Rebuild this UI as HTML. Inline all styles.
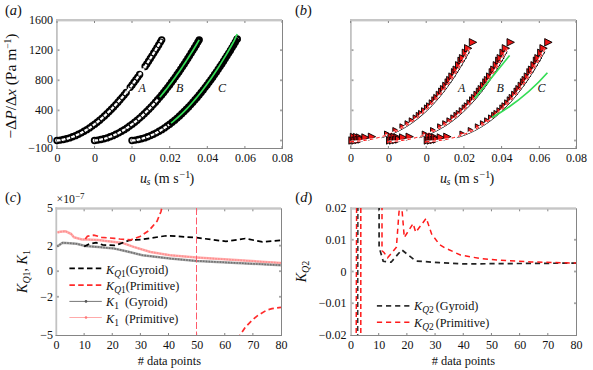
<!DOCTYPE html><html><head><meta charset="utf-8"><style>
html,body{margin:0;padding:0;background:#fff;width:593px;height:370px;overflow:hidden}
svg{display:block}
text{font-family:"Liberation Serif", serif;fill:#111}
.t{font-size:12px}
.it{font-style:italic}
</style></head><body>
<svg width="593" height="370" viewBox="0 0 593 370">
<text x="5" y="15" font-size="14.5" text-anchor="start" class="" >(<tspan class="it">a</tspan>)</text>
<text x="295" y="15" font-size="14.5" text-anchor="start" class="" >(<tspan class="it">b</tspan>)</text>
<text x="5" y="202" font-size="14.5" text-anchor="start" class="" >(<tspan class="it">c</tspan>)</text>
<text x="295.3" y="202" font-size="14.5" text-anchor="start" class="" >(<tspan class="it">d</tspan>)</text>
<rect x="56" y="19" width="226" height="2.4" fill="#c6c6c6"/>
<rect x="56" y="19" width="1.8" height="129" fill="#c2c2c2"/>
<rect x="282" y="20" width="1" height="129" fill="#858585"/>
<rect x="56" y="148" width="227" height="1" fill="#858585"/>
<rect x="56.5" y="146" width="1" height="2" fill="#858585"/>
<rect x="56.5" y="21" width="1" height="2" fill="#858585"/>
<rect x="94.0" y="146" width="1" height="2" fill="#858585"/>
<rect x="94.0" y="21" width="1" height="2" fill="#858585"/>
<rect x="131.5" y="146" width="1" height="2" fill="#858585"/>
<rect x="131.5" y="21" width="1" height="2" fill="#858585"/>
<rect x="169.2" y="146" width="1" height="2" fill="#858585"/>
<rect x="169.2" y="21" width="1" height="2" fill="#858585"/>
<rect x="206.8" y="146" width="1" height="2" fill="#858585"/>
<rect x="206.8" y="21" width="1" height="2" fill="#858585"/>
<rect x="244.4" y="146" width="1" height="2" fill="#858585"/>
<rect x="244.4" y="21" width="1" height="2" fill="#858585"/>
<rect x="281.5" y="146" width="1" height="2" fill="#858585"/>
<rect x="281.5" y="21" width="1" height="2" fill="#858585"/>
<rect x="57.5" y="139.6" width="2" height="1.8" fill="#a5a5a5"/>
<rect x="280" y="139.6" width="2" height="1.8" fill="#a5a5a5"/>
<rect x="57.5" y="109.484" width="2" height="1.8" fill="#a5a5a5"/>
<rect x="280" y="109.484" width="2" height="1.8" fill="#a5a5a5"/>
<rect x="57.5" y="79.368" width="2" height="1.8" fill="#a5a5a5"/>
<rect x="280" y="79.368" width="2" height="1.8" fill="#a5a5a5"/>
<rect x="57.5" y="49.252" width="2" height="1.8" fill="#a5a5a5"/>
<rect x="280" y="49.252" width="2" height="1.8" fill="#a5a5a5"/>
<text x="53" y="24" font-size="12" text-anchor="end" class="" >1600</text>
<text x="53" y="54" font-size="12" text-anchor="end" class="" >1200</text>
<text x="53" y="84" font-size="12" text-anchor="end" class="" >800</text>
<text x="53" y="114" font-size="12" text-anchor="end" class="" >400</text>
<text x="53" y="142.5" font-size="12" text-anchor="end" class="" >0</text>
<text x="53" y="152" font-size="12" text-anchor="end" class="" >−100</text>
<text x="57.5" y="162" font-size="12" text-anchor="middle" class="" >0</text>
<text x="95.0" y="162" font-size="12" text-anchor="middle" class="" >0</text>
<text x="132.5" y="162" font-size="12" text-anchor="middle" class="" >0</text>
<text x="170.2" y="162" font-size="12" text-anchor="middle" class="" >0.02</text>
<text x="207.8" y="162" font-size="12" text-anchor="middle" class="" >0.04</text>
<text x="245.4" y="162" font-size="12" text-anchor="middle" class="" >0.06</text>
<text x="282.5" y="162" font-size="12" text-anchor="middle" class="" >0.08</text>
<text y="182.5" font-size="14"><tspan x="140" class="it">u</tspan><tspan x="146.6" y="184.5" font-size="10" class="it">s</tspan><tspan x="154.2" y="182.5">(m</tspan><tspan x="173.3" y="182.5">s</tspan><tspan x="179.6" y="177.8" font-size="10">−1</tspan><tspan x="189.6" y="182.5">)</tspan></text>
<circle cx="57.00" cy="140.50" r="2.8" fill="none" stroke="#000" stroke-width="1.8"/>
<circle cx="60.21" cy="140.11" r="2.8" fill="none" stroke="#000" stroke-width="1.8"/>
<circle cx="63.36" cy="139.54" r="2.8" fill="none" stroke="#000" stroke-width="1.8"/>
<circle cx="66.50" cy="138.79" r="2.8" fill="none" stroke="#000" stroke-width="1.8"/>
<circle cx="69.57" cy="137.88" r="2.8" fill="none" stroke="#000" stroke-width="1.8"/>
<circle cx="72.58" cy="136.82" r="2.8" fill="none" stroke="#000" stroke-width="1.8"/>
<circle cx="75.51" cy="135.63" r="2.8" fill="none" stroke="#000" stroke-width="1.8"/>
<circle cx="78.44" cy="134.29" r="2.8" fill="none" stroke="#000" stroke-width="1.8"/>
<circle cx="81.31" cy="132.83" r="2.8" fill="none" stroke="#000" stroke-width="1.8"/>
<circle cx="84.10" cy="131.28" r="2.8" fill="none" stroke="#000" stroke-width="1.8"/>
<circle cx="86.82" cy="129.63" r="2.8" fill="none" stroke="#000" stroke-width="1.8"/>
<circle cx="89.48" cy="127.91" r="2.8" fill="none" stroke="#000" stroke-width="1.8"/>
<circle cx="92.13" cy="126.06" r="2.8" fill="none" stroke="#000" stroke-width="1.8"/>
<circle cx="94.72" cy="124.15" r="2.8" fill="none" stroke="#000" stroke-width="1.8"/>
<circle cx="97.23" cy="122.19" r="2.8" fill="none" stroke="#000" stroke-width="1.8"/>
<circle cx="99.68" cy="120.19" r="2.8" fill="none" stroke="#000" stroke-width="1.8"/>
<circle cx="102.12" cy="118.09" r="2.8" fill="none" stroke="#000" stroke-width="1.8"/>
<circle cx="104.50" cy="115.95" r="2.8" fill="none" stroke="#000" stroke-width="1.8"/>
<circle cx="106.87" cy="113.73" r="2.8" fill="none" stroke="#000" stroke-width="1.8"/>
<circle cx="109.18" cy="111.49" r="2.8" fill="none" stroke="#000" stroke-width="1.8"/>
<circle cx="111.41" cy="109.24" r="2.8" fill="none" stroke="#000" stroke-width="1.8"/>
<circle cx="113.65" cy="106.91" r="2.8" fill="none" stroke="#000" stroke-width="1.8"/>
<circle cx="115.81" cy="104.59" r="2.8" fill="none" stroke="#000" stroke-width="1.8"/>
<circle cx="117.98" cy="102.19" r="2.8" fill="none" stroke="#000" stroke-width="1.8"/>
<circle cx="120.07" cy="99.80" r="2.8" fill="none" stroke="#000" stroke-width="1.8"/>
<circle cx="122.17" cy="97.35" r="2.8" fill="none" stroke="#000" stroke-width="1.8"/>
<circle cx="124.19" cy="94.92" r="2.8" fill="none" stroke="#000" stroke-width="1.8"/>
<circle cx="126.22" cy="92.43" r="2.8" fill="none" stroke="#000" stroke-width="1.8"/>
<circle cx="130.20" cy="87.37" r="2.8" fill="none" stroke="#000" stroke-width="1.8"/>
<circle cx="132.09" cy="84.90" r="2.8" fill="none" stroke="#000" stroke-width="1.8"/>
<circle cx="134.04" cy="82.28" r="2.8" fill="none" stroke="#000" stroke-width="1.8"/>
<circle cx="135.93" cy="79.70" r="2.8" fill="none" stroke="#000" stroke-width="1.8"/>
<circle cx="137.81" cy="77.08" r="2.8" fill="none" stroke="#000" stroke-width="1.8"/>
<circle cx="139.63" cy="74.51" r="2.8" fill="none" stroke="#000" stroke-width="1.8"/>
<circle cx="145.08" cy="66.53" r="2.8" fill="none" stroke="#000" stroke-width="1.8"/>
<circle cx="146.82" cy="63.89" r="2.8" fill="none" stroke="#000" stroke-width="1.8"/>
<circle cx="148.57" cy="61.21" r="2.8" fill="none" stroke="#000" stroke-width="1.8"/>
<circle cx="150.32" cy="58.50" r="2.8" fill="none" stroke="#000" stroke-width="1.8"/>
<circle cx="151.99" cy="55.85" r="2.8" fill="none" stroke="#000" stroke-width="1.8"/>
<circle cx="153.74" cy="53.06" r="2.8" fill="none" stroke="#000" stroke-width="1.8"/>
<circle cx="155.41" cy="50.34" r="2.8" fill="none" stroke="#000" stroke-width="1.8"/>
<circle cx="157.02" cy="47.71" r="2.8" fill="none" stroke="#000" stroke-width="1.8"/>
<circle cx="158.70" cy="44.92" r="2.8" fill="none" stroke="#000" stroke-width="1.8"/>
<circle cx="160.37" cy="42.11" r="2.8" fill="none" stroke="#000" stroke-width="1.8"/>
<circle cx="161.70" cy="39.85" r="2.8" fill="none" stroke="#000" stroke-width="1.8"/>
<path d="M57.00,140.50 L58.75,140.31 L60.49,140.07 L62.24,139.76 L63.98,139.40 L65.73,138.99 L67.48,138.52 L69.22,137.99 L70.97,137.40 L72.72,136.77 L74.46,136.07 L76.21,135.32 L77.95,134.52 L79.70,133.67 L81.45,132.76 L83.19,131.80 L84.94,130.78 L86.68,129.72 L88.43,128.60 L90.18,127.43 L91.92,126.21 L93.67,124.94 L95.42,123.62 L97.16,122.25 L98.91,120.83 L100.65,119.36 L102.40,117.84 L104.15,116.27 L105.89,114.66 L107.64,112.99 L109.38,111.28 L111.13,109.52 L112.88,107.72 L114.62,105.87 L116.37,103.97 L118.12,102.03 L119.86,100.04 L121.61,98.01 L123.35,95.94 L125.10,93.81 L126.85,91.65 L128.59,89.44 L130.34,87.19 L132.09,84.90 L133.83,82.56 L135.58,80.18 L137.32,77.76 L139.07,75.30 L140.82,72.80 L142.56,70.26 L144.31,67.68 L146.05,65.06 L147.80,62.40 L149.55,59.70 L151.29,56.96 L153.04,54.18 L154.79,51.36 L156.53,48.51 L158.28,45.62 L160.02,42.70 L161.70,39.85" fill="none" stroke="#fff" stroke-width="2.3" stroke-dasharray="3.6 1.3"/>
<circle cx="94.50" cy="140.50" r="2.8" fill="none" stroke="#000" stroke-width="1.8"/>
<circle cx="97.71" cy="140.11" r="2.8" fill="none" stroke="#000" stroke-width="1.8"/>
<circle cx="100.86" cy="139.54" r="2.8" fill="none" stroke="#000" stroke-width="1.8"/>
<circle cx="104.00" cy="138.79" r="2.8" fill="none" stroke="#000" stroke-width="1.8"/>
<circle cx="107.07" cy="137.88" r="2.8" fill="none" stroke="#000" stroke-width="1.8"/>
<circle cx="110.08" cy="136.82" r="2.8" fill="none" stroke="#000" stroke-width="1.8"/>
<circle cx="113.01" cy="135.63" r="2.8" fill="none" stroke="#000" stroke-width="1.8"/>
<circle cx="115.94" cy="134.29" r="2.8" fill="none" stroke="#000" stroke-width="1.8"/>
<circle cx="118.81" cy="132.83" r="2.8" fill="none" stroke="#000" stroke-width="1.8"/>
<circle cx="121.60" cy="131.28" r="2.8" fill="none" stroke="#000" stroke-width="1.8"/>
<circle cx="124.32" cy="129.63" r="2.8" fill="none" stroke="#000" stroke-width="1.8"/>
<circle cx="126.98" cy="127.91" r="2.8" fill="none" stroke="#000" stroke-width="1.8"/>
<circle cx="129.63" cy="126.06" r="2.8" fill="none" stroke="#000" stroke-width="1.8"/>
<circle cx="132.22" cy="124.15" r="2.8" fill="none" stroke="#000" stroke-width="1.8"/>
<circle cx="134.73" cy="122.19" r="2.8" fill="none" stroke="#000" stroke-width="1.8"/>
<circle cx="137.18" cy="120.19" r="2.8" fill="none" stroke="#000" stroke-width="1.8"/>
<circle cx="139.62" cy="118.09" r="2.8" fill="none" stroke="#000" stroke-width="1.8"/>
<circle cx="142.00" cy="115.95" r="2.8" fill="none" stroke="#000" stroke-width="1.8"/>
<circle cx="144.37" cy="113.73" r="2.8" fill="none" stroke="#000" stroke-width="1.8"/>
<circle cx="146.68" cy="111.49" r="2.8" fill="none" stroke="#000" stroke-width="1.8"/>
<circle cx="148.91" cy="109.24" r="2.8" fill="none" stroke="#000" stroke-width="1.8"/>
<circle cx="151.15" cy="106.91" r="2.8" fill="none" stroke="#000" stroke-width="1.8"/>
<circle cx="153.31" cy="104.59" r="2.8" fill="none" stroke="#000" stroke-width="1.8"/>
<circle cx="155.48" cy="102.19" r="2.8" fill="none" stroke="#000" stroke-width="1.8"/>
<circle cx="157.57" cy="99.80" r="2.8" fill="none" stroke="#000" stroke-width="1.8"/>
<circle cx="159.67" cy="97.35" r="2.8" fill="none" stroke="#000" stroke-width="1.8"/>
<circle cx="161.69" cy="94.92" r="2.8" fill="none" stroke="#000" stroke-width="1.8"/>
<circle cx="163.72" cy="92.43" r="2.8" fill="none" stroke="#000" stroke-width="1.8"/>
<circle cx="165.67" cy="89.98" r="2.8" fill="none" stroke="#000" stroke-width="1.8"/>
<circle cx="167.70" cy="87.37" r="2.8" fill="none" stroke="#000" stroke-width="1.8"/>
<circle cx="169.59" cy="84.90" r="2.8" fill="none" stroke="#000" stroke-width="1.8"/>
<circle cx="171.54" cy="82.28" r="2.8" fill="none" stroke="#000" stroke-width="1.8"/>
<circle cx="173.43" cy="79.70" r="2.8" fill="none" stroke="#000" stroke-width="1.8"/>
<circle cx="175.31" cy="77.08" r="2.8" fill="none" stroke="#000" stroke-width="1.8"/>
<circle cx="177.13" cy="74.51" r="2.8" fill="none" stroke="#000" stroke-width="1.8"/>
<circle cx="178.94" cy="71.89" r="2.8" fill="none" stroke="#000" stroke-width="1.8"/>
<circle cx="180.76" cy="69.23" r="2.8" fill="none" stroke="#000" stroke-width="1.8"/>
<circle cx="182.58" cy="66.53" r="2.8" fill="none" stroke="#000" stroke-width="1.8"/>
<circle cx="184.32" cy="63.89" r="2.8" fill="none" stroke="#000" stroke-width="1.8"/>
<circle cx="186.07" cy="61.21" r="2.8" fill="none" stroke="#000" stroke-width="1.8"/>
<circle cx="187.82" cy="58.50" r="2.8" fill="none" stroke="#000" stroke-width="1.8"/>
<circle cx="189.49" cy="55.85" r="2.8" fill="none" stroke="#000" stroke-width="1.8"/>
<circle cx="191.24" cy="53.06" r="2.8" fill="none" stroke="#000" stroke-width="1.8"/>
<circle cx="192.91" cy="50.34" r="2.8" fill="none" stroke="#000" stroke-width="1.8"/>
<circle cx="194.52" cy="47.71" r="2.8" fill="none" stroke="#000" stroke-width="1.8"/>
<circle cx="196.20" cy="44.92" r="2.8" fill="none" stroke="#000" stroke-width="1.8"/>
<circle cx="197.87" cy="42.11" r="2.8" fill="none" stroke="#000" stroke-width="1.8"/>
<circle cx="199.20" cy="39.85" r="2.8" fill="none" stroke="#000" stroke-width="1.8"/>
<path d="M94.50,140.50 L96.25,140.31 L97.99,140.07 L99.74,139.76 L101.48,139.40 L103.23,138.99 L104.98,138.52 L106.72,137.99 L108.47,137.40 L110.22,136.77 L111.96,136.07 L113.71,135.32 L115.45,134.52 L117.20,133.67 L118.95,132.76 L120.69,131.80 L122.44,130.78 L124.18,129.72 L125.93,128.60 L127.68,127.43 L129.42,126.21 L131.17,124.94 L132.92,123.62 L134.66,122.25 L136.41,120.83 L138.15,119.36 L139.90,117.84 L141.65,116.27 L143.39,114.66 L145.14,112.99 L146.88,111.28 L148.63,109.52 L150.38,107.72 L152.12,105.87 L153.87,103.97 L155.62,102.03 L157.36,100.04 L159.11,98.01" fill="none" stroke="#fff" stroke-width="2.3" stroke-dasharray="3.6 1.3"/>
<circle cx="132.00" cy="140.50" r="2.8" fill="none" stroke="#000" stroke-width="1.8"/>
<circle cx="135.23" cy="140.11" r="2.8" fill="none" stroke="#000" stroke-width="1.8"/>
<circle cx="138.39" cy="139.53" r="2.8" fill="none" stroke="#000" stroke-width="1.8"/>
<circle cx="141.47" cy="138.79" r="2.8" fill="none" stroke="#000" stroke-width="1.8"/>
<circle cx="144.56" cy="137.88" r="2.8" fill="none" stroke="#000" stroke-width="1.8"/>
<circle cx="147.58" cy="136.82" r="2.8" fill="none" stroke="#000" stroke-width="1.8"/>
<circle cx="150.53" cy="135.62" r="2.8" fill="none" stroke="#000" stroke-width="1.8"/>
<circle cx="153.40" cy="134.31" r="2.8" fill="none" stroke="#000" stroke-width="1.8"/>
<circle cx="156.28" cy="132.85" r="2.8" fill="none" stroke="#000" stroke-width="1.8"/>
<circle cx="159.09" cy="131.28" r="2.8" fill="none" stroke="#000" stroke-width="1.8"/>
<circle cx="161.83" cy="129.63" r="2.8" fill="none" stroke="#000" stroke-width="1.8"/>
<circle cx="164.49" cy="127.90" r="2.8" fill="none" stroke="#000" stroke-width="1.8"/>
<circle cx="167.16" cy="126.04" r="2.8" fill="none" stroke="#000" stroke-width="1.8"/>
<circle cx="169.69" cy="124.18" r="2.8" fill="none" stroke="#000" stroke-width="1.8"/>
<circle cx="172.21" cy="122.21" r="2.8" fill="none" stroke="#000" stroke-width="1.8"/>
<circle cx="174.74" cy="120.13" r="2.8" fill="none" stroke="#000" stroke-width="1.8"/>
<circle cx="177.13" cy="118.08" r="2.8" fill="none" stroke="#000" stroke-width="1.8"/>
<circle cx="179.51" cy="115.94" r="2.8" fill="none" stroke="#000" stroke-width="1.8"/>
<circle cx="181.83" cy="113.77" r="2.8" fill="none" stroke="#000" stroke-width="1.8"/>
<circle cx="184.14" cy="111.52" r="2.8" fill="none" stroke="#000" stroke-width="1.8"/>
<circle cx="186.39" cy="109.26" r="2.8" fill="none" stroke="#000" stroke-width="1.8"/>
<circle cx="188.64" cy="106.92" r="2.8" fill="none" stroke="#000" stroke-width="1.8"/>
<circle cx="190.81" cy="104.59" r="2.8" fill="none" stroke="#000" stroke-width="1.8"/>
<circle cx="192.92" cy="102.26" r="2.8" fill="none" stroke="#000" stroke-width="1.8"/>
<circle cx="195.09" cy="99.78" r="2.8" fill="none" stroke="#000" stroke-width="1.8"/>
<circle cx="197.13" cy="97.40" r="2.8" fill="none" stroke="#000" stroke-width="1.8"/>
<circle cx="199.16" cy="94.96" r="2.8" fill="none" stroke="#000" stroke-width="1.8"/>
<circle cx="201.20" cy="92.46" r="2.8" fill="none" stroke="#000" stroke-width="1.8"/>
<circle cx="203.23" cy="89.90" r="2.8" fill="none" stroke="#000" stroke-width="1.8"/>
<circle cx="205.20" cy="87.37" r="2.8" fill="none" stroke="#000" stroke-width="1.8"/>
<circle cx="207.09" cy="84.89" r="2.8" fill="none" stroke="#000" stroke-width="1.8"/>
<circle cx="209.06" cy="82.26" r="2.8" fill="none" stroke="#000" stroke-width="1.8"/>
<circle cx="210.95" cy="79.67" r="2.8" fill="none" stroke="#000" stroke-width="1.8"/>
<circle cx="212.78" cy="77.13" r="2.8" fill="none" stroke="#000" stroke-width="1.8"/>
<circle cx="214.60" cy="74.55" r="2.8" fill="none" stroke="#000" stroke-width="1.8"/>
<circle cx="216.43" cy="71.92" r="2.8" fill="none" stroke="#000" stroke-width="1.8"/>
<circle cx="218.25" cy="69.25" r="2.8" fill="none" stroke="#000" stroke-width="1.8"/>
<circle cx="220.08" cy="66.53" r="2.8" fill="none" stroke="#000" stroke-width="1.8"/>
<circle cx="221.83" cy="63.88" r="2.8" fill="none" stroke="#000" stroke-width="1.8"/>
<circle cx="223.59" cy="61.19" r="2.8" fill="none" stroke="#000" stroke-width="1.8"/>
<circle cx="225.27" cy="58.57" r="2.8" fill="none" stroke="#000" stroke-width="1.8"/>
<circle cx="227.02" cy="55.80" r="2.8" fill="none" stroke="#000" stroke-width="1.8"/>
<circle cx="228.71" cy="53.11" r="2.8" fill="none" stroke="#000" stroke-width="1.8"/>
<circle cx="230.39" cy="50.38" r="2.8" fill="none" stroke="#000" stroke-width="1.8"/>
<circle cx="232.08" cy="47.61" r="2.8" fill="none" stroke="#000" stroke-width="1.8"/>
<circle cx="233.69" cy="44.93" r="2.8" fill="none" stroke="#000" stroke-width="1.8"/>
<circle cx="235.31" cy="42.22" r="2.8" fill="none" stroke="#000" stroke-width="1.8"/>
<circle cx="236.99" cy="39.36" r="2.8" fill="none" stroke="#000" stroke-width="1.8"/>
<circle cx="237.20" cy="39.00" r="2.8" fill="none" stroke="#000" stroke-width="1.8"/>
<path d="M132.00,140.50 L133.75,140.31 L135.51,140.06 L137.26,139.76 L139.02,139.40 L140.77,138.98 L142.53,138.50 L144.28,137.97 L146.04,137.38 L147.79,136.74 L149.55,136.04 L151.30,135.28 L153.05,134.48 L154.81,133.61 L156.56,132.70 L158.32,131.73 L160.07,130.70 L161.83,129.63 L163.58,128.50 L165.34,127.32 L167.09,126.09 L168.84,124.81 L170.60,123.48" fill="none" stroke="#fff" stroke-width="2.3" stroke-dasharray="3.6 1.3"/>
<path d="M159.70,97.31 L161.06,95.69 L162.42,94.03 L163.79,92.35 L165.15,90.64 L166.51,88.91 L167.87,87.15 L169.23,85.36 L170.60,83.55 L171.96,81.71 L173.32,79.85 L174.68,77.96 L176.04,76.05 L177.41,74.11 L178.77,72.15 L180.13,70.16 L181.49,68.15 L182.86,66.11 L184.22,64.05 L185.58,61.97 L186.94,59.86 L188.30,57.73 L189.67,55.57 L191.03,53.40 L192.39,51.19 L193.75,48.97 L195.11,46.72 L196.48,44.46 L197.84,42.16 L199.20,39.85" fill="none" stroke="#000" stroke-width="5" stroke-linecap="round"/>
<path d="M159.70,97.31 L161.06,95.69 L162.42,94.03 L163.79,92.35 L165.15,90.64 L166.51,88.91 L167.87,87.15 L169.23,85.36 L170.60,83.55 L171.96,81.71 L173.32,79.85 L174.68,77.96 L176.04,76.05 L177.41,74.11 L178.77,72.15 L180.13,70.16 L181.49,68.15 L182.86,66.11 L184.22,64.05 L185.58,61.97 L186.94,59.86 L188.30,57.73 L189.67,55.57 L191.03,53.40 L192.39,51.19 L193.75,48.97 L195.11,46.72 L196.48,44.46 L197.84,42.16 L199.20,39.85" fill="none" stroke="#33dd55" stroke-width="1.7"/>
<path d="M171.00,123.17 L173.26,121.36 L175.52,119.47 L177.78,117.51 L180.03,115.46 L182.29,113.33 L184.55,111.12 L186.81,108.83 L189.07,106.46 L191.33,104.02 L193.59,101.50 L195.84,98.91 L198.10,96.24 L200.36,93.49 L202.62,90.68 L204.88,87.79 L207.14,84.83 L209.40,81.80 L211.66,78.70 L213.91,75.53 L216.17,72.29 L218.43,68.98 L220.69,65.61 L222.95,62.17 L225.21,58.66 L227.47,55.10 L229.72,51.46 L231.98,47.77 L234.24,44.01 L236.50,40.19" fill="none" stroke="#000" stroke-width="5" stroke-linecap="round"/>
<path d="M171.00,123.17 L173.26,121.36 L175.51,119.47 L177.75,117.51 L180.00,115.46 L182.23,113.33 L184.47,111.12 L186.69,108.83 L188.92,106.46 L191.13,104.02 L193.35,101.50 L195.56,98.91 L197.76,96.24 L199.96,93.49 L202.15,90.68 L204.34,87.79 L206.53,84.83 L208.71,81.80 L210.88,78.70 L213.06,75.53 L215.22,72.29 L217.38,68.98 L219.54,65.61 L221.69,62.17 L223.84,58.66 L225.98,55.10 L228.12,51.46 L230.25,47.77 L232.38,44.01 L234.50,40.19 L237.20,34.00" fill="none" stroke="#33dd55" stroke-width="1.7"/>
<text x="138.5" y="91.5" font-size="12" text-anchor="start" class="it" >A</text>
<text x="176" y="91.5" font-size="12" text-anchor="start" class="it" >B</text>
<text x="218" y="91.5" font-size="12" text-anchor="start" class="it" >C</text>
<text transform="translate(15.8,86) rotate(-90)" font-size="15.5" text-anchor="middle">−Δ<tspan class="it">P</tspan>/Δ<tspan class="it">x</tspan> (Pa m<tspan font-size="9.5" dy="-5">−1</tspan><tspan dy="5">)</tspan></text>
<rect x="350" y="19" width="226" height="2.4" fill="#c6c6c6"/>
<rect x="350" y="19" width="1.8" height="129" fill="#c2c2c2"/>
<rect x="576" y="20" width="1" height="129" fill="#858585"/>
<rect x="350" y="148" width="227" height="1" fill="#858585"/>
<rect x="350.1" y="146" width="1" height="2" fill="#858585"/>
<rect x="350.1" y="21" width="1" height="2" fill="#858585"/>
<rect x="387.9" y="146" width="1" height="2" fill="#858585"/>
<rect x="387.9" y="21" width="1" height="2" fill="#858585"/>
<rect x="425.7" y="146" width="1" height="2" fill="#858585"/>
<rect x="425.7" y="21" width="1" height="2" fill="#858585"/>
<rect x="463.4" y="146" width="1" height="2" fill="#858585"/>
<rect x="463.4" y="21" width="1" height="2" fill="#858585"/>
<rect x="501.1" y="146" width="1" height="2" fill="#858585"/>
<rect x="501.1" y="21" width="1" height="2" fill="#858585"/>
<rect x="538.8" y="146" width="1" height="2" fill="#858585"/>
<rect x="538.8" y="21" width="1" height="2" fill="#858585"/>
<rect x="575.5" y="146" width="1" height="2" fill="#858585"/>
<rect x="575.5" y="21" width="1" height="2" fill="#858585"/>
<rect x="351.5" y="139.6" width="2" height="1.8" fill="#a5a5a5"/>
<rect x="574" y="139.6" width="2" height="1.8" fill="#a5a5a5"/>
<rect x="351.5" y="109.484" width="2" height="1.8" fill="#a5a5a5"/>
<rect x="574" y="109.484" width="2" height="1.8" fill="#a5a5a5"/>
<rect x="351.5" y="79.368" width="2" height="1.8" fill="#a5a5a5"/>
<rect x="574" y="79.368" width="2" height="1.8" fill="#a5a5a5"/>
<rect x="351.5" y="49.252" width="2" height="1.8" fill="#a5a5a5"/>
<rect x="574" y="49.252" width="2" height="1.8" fill="#a5a5a5"/>
<text x="351.1" y="162" font-size="12" text-anchor="middle" class="" >0</text>
<text x="388.9" y="162" font-size="12" text-anchor="middle" class="" >0</text>
<text x="426.7" y="162" font-size="12" text-anchor="middle" class="" >0</text>
<text x="464.4" y="162" font-size="12" text-anchor="middle" class="" >0.02</text>
<text x="502.1" y="162" font-size="12" text-anchor="middle" class="" >0.04</text>
<text x="539.8" y="162" font-size="12" text-anchor="middle" class="" >0.06</text>
<text x="576.5" y="162" font-size="12" text-anchor="middle" class="" >0.08</text>
<text y="182.5" font-size="14"><tspan x="440" class="it">u</tspan><tspan x="446.6" y="184.5" font-size="10" class="it">s</tspan><tspan x="454.2" y="182.5">(m</tspan><tspan x="473.3" y="182.5">s</tspan><tspan x="479.6" y="177.8" font-size="10">−1</tspan><tspan x="489.6" y="182.5">)</tspan></text>
<path d="M348.8,136.8 L356.2,140.5 L348.8,144.2 Z" fill="#ee1515" stroke="#000" stroke-width="0.9"/>
<path d="M350.3,133.3 L357.7,137.0 L350.3,140.7 Z" fill="#ee1515" stroke="#000" stroke-width="0.9"/>
<path d="M351.8,136.8 L359.2,140.5 L351.8,144.2 Z" fill="#ee1515" stroke="#000" stroke-width="0.9"/>
<path d="M353.3,133.3 L360.7,137.0 L353.3,140.7 Z" fill="#ee1515" stroke="#000" stroke-width="0.9"/>
<path d="M354.8,136.3 L362.2,140.0 L354.8,143.7 Z" fill="#ee1515" stroke="#000" stroke-width="0.9"/>
<path d="M356.3,133.8 L363.7,137.5 L356.3,141.2 Z" fill="#ee1515" stroke="#000" stroke-width="0.9"/>
<path d="M357.8,135.8 L365.2,139.5 L357.8,143.2 Z" fill="#ee1515" stroke="#000" stroke-width="0.9"/>
<path d="M361.8,133.8 L369.2,137.5 L361.8,141.2 Z" fill="#ee1515" stroke="#000" stroke-width="0.9"/>
<path d="M368.3,133.1 L375.7,136.8 L368.3,140.5 Z" fill="#ee1515" stroke="#000" stroke-width="0.9"/>
<path d="M384.5,131.0 L389.9,133.7 L384.5,136.4 Z" fill="#ee1515" stroke="#000" stroke-width="0.9"/>
<path d="M392.8,127.5 L398.2,130.2 L392.8,132.9 Z" fill="#ee1515" stroke="#000" stroke-width="0.9"/>
<path d="M399.9,123.8 L405.3,126.5 L399.9,129.2 Z" fill="#ee1515" stroke="#000" stroke-width="0.9"/>
<path d="M405.0,120.7 L410.4,123.4 L405.0,126.1 Z" fill="#ee1515" stroke="#000" stroke-width="0.9"/>
<path d="M409.2,117.8 L414.6,120.5 L409.2,123.2 Z" fill="#ee1515" stroke="#000" stroke-width="0.9"/>
<path d="M413.1,114.9 L418.5,117.6 L413.1,120.3 Z" fill="#ee1515" stroke="#000" stroke-width="0.9"/>
<path d="M416.2,112.3 L421.6,115.0 L416.2,117.7 Z" fill="#ee1515" stroke="#000" stroke-width="0.9"/>
<path d="M418.5,110.4 L423.9,113.1 L418.5,115.8 Z" fill="#ee1515" stroke="#000" stroke-width="0.9"/>
<path d="M421.5,107.7 L426.9,110.4 L421.5,113.1 Z" fill="#ee1515" stroke="#000" stroke-width="0.9"/>
<path d="M424.4,104.9 L429.8,107.6 L424.4,110.3 Z" fill="#ee1515" stroke="#000" stroke-width="0.9"/>
<path d="M426.5,102.8 L431.9,105.5 L426.5,108.2 Z" fill="#ee1515" stroke="#000" stroke-width="0.9"/>
<path d="M429.2,99.8 L434.7,102.6 L429.2,105.3 Z" fill="#ee1515" stroke="#000" stroke-width="0.9"/>
<path d="M431.8,96.8 L437.4,99.6 L431.8,102.4 Z" fill="#ee1515" stroke="#000" stroke-width="0.9"/>
<path d="M433.7,94.4 L439.4,97.3 L433.7,100.2 Z" fill="#ee1515" stroke="#000" stroke-width="0.9"/>
<path d="M436.2,91.2 L442.1,94.2 L436.2,97.1 Z" fill="#ee1515" stroke="#000" stroke-width="0.9"/>
<path d="M438.6,88.0 L444.6,91.0 L438.6,94.0 Z" fill="#ee1515" stroke="#000" stroke-width="0.9"/>
<path d="M440.4,85.5 L446.5,88.6 L440.4,91.6 Z" fill="#ee1515" stroke="#000" stroke-width="0.9"/>
<path d="M442.7,82.2 L448.9,85.3 L442.7,88.4 Z" fill="#ee1515" stroke="#000" stroke-width="0.9"/>
<path d="M445.0,78.8 L451.3,82.0 L445.0,85.2 Z" fill="#ee1515" stroke="#000" stroke-width="0.9"/>
<path d="M446.6,76.4 L453.0,79.6 L446.6,82.8 Z" fill="#ee1515" stroke="#000" stroke-width="0.9"/>
<path d="M448.8,72.9 L455.3,76.2 L448.8,79.5 Z" fill="#ee1515" stroke="#000" stroke-width="0.9"/>
<path d="M451.4,68.6 L458.1,71.9 L451.4,75.3 Z" fill="#ee1515" stroke="#000" stroke-width="0.9"/>
<path d="M453.0,66.0 L459.7,69.4 L453.0,72.7 Z" fill="#ee1515" stroke="#000" stroke-width="0.9"/>
<path d="M455.5,61.6 L462.4,65.0 L455.5,68.5 Z" fill="#ee1515" stroke="#000" stroke-width="0.9"/>
<path d="M457.9,57.1 L465.0,60.7 L457.9,64.2 Z" fill="#ee1515" stroke="#000" stroke-width="0.9"/>
<path d="M459.4,54.5 L466.5,58.1 L459.4,61.6 Z" fill="#ee1515" stroke="#000" stroke-width="0.9"/>
<path d="M462.2,49.1 L469.4,52.8 L462.2,56.4 Z" fill="#ee1515" stroke="#000" stroke-width="0.9"/>
<path d="M464.5,44.6 L471.8,48.3 L464.5,52.0 Z" fill="#ee1515" stroke="#000" stroke-width="0.9"/>
<path d="M469.3,38.6 L476.7,42.3 L469.3,46.0 Z" fill="#ee1515" stroke="#000" stroke-width="0.9"/>
<path d="M381.40,137.71 L382.89,137.27 L384.38,136.80 L385.87,136.31 L387.37,135.79 L388.86,135.24 L390.35,134.67 L391.84,134.07 L393.33,133.44 L394.82,132.79 L396.32,132.10 L397.81,131.38 L399.30,130.64 L400.79,129.86 L402.28,129.05 L403.77,128.21 L405.26,127.34 L406.76,126.43 L408.25,125.49 L409.74,124.52 L411.23,123.51 L412.72,122.47 L414.21,121.39 L415.71,120.28 L417.20,119.12 L418.69,117.94 L420.18,116.71 L421.67,115.44 L423.16,114.14 L424.65,112.79 L426.15,111.41 L427.64,109.99 L429.13,108.52 L430.62,107.01 L432.11,105.46 L433.60,103.87 L435.09,102.24 L436.59,100.56 L438.08,98.83 L439.57,97.06 L441.06,95.25 L442.55,93.39 L444.04,91.48 L445.54,89.53 L447.03,87.53 L448.52,85.48 L450.01,83.38 L451.50,81.23 L452.99,79.03 L454.48,76.79 L455.98,74.49 L457.47,72.14 L458.96,69.74 L460.45,67.28 L461.94,64.77 L463.43,62.21 L464.93,59.60 L466.42,56.93 L467.91,54.20 L469.40,51.42" fill="none" stroke="#000" stroke-width="1"/>
<path d="M350.50,141.50 L352.52,141.42 L354.53,141.31 L356.55,141.17 L358.57,141.01 L360.58,140.82 L362.60,140.59 L364.62,140.33 L366.64,140.04 L368.65,139.71 L370.67,139.35 L372.69,138.95 L374.70,138.51 L376.72,138.03 L378.74,137.51 L380.75,136.94 L382.77,136.33 L384.79,135.67 L386.81,134.97 L388.82,134.22 L390.84,133.41 L392.86,132.56 L394.87,131.65 L396.89,130.69 L398.91,129.68 L400.92,128.60 L402.94,127.47 L404.96,126.28 L406.97,125.03 L408.99,123.72 L411.01,122.34 L413.03,120.90 L415.04,119.40 L417.06,117.82 L419.08,116.18 L421.09,114.46 L423.11,112.68 L425.13,110.82 L427.14,108.89 L429.16,106.88 L431.18,104.80 L433.19,102.64 L435.21,100.40 L437.23,98.07 L439.25,95.67 L441.26,93.18 L443.28,90.61 L445.30,87.95 L447.31,85.20 L449.33,82.37 L451.35,79.44 L453.36,76.42 L455.38,73.31 L457.40,70.11 L459.42,66.81 L461.43,63.41 L463.45,59.91 L465.47,56.32 L467.48,52.62 L469.50,48.82" fill="none" stroke="#fff" stroke-width="1.7"/>
<path d="M350.50,141.50 L352.52,141.42 L354.53,141.31 L356.55,141.17 L358.57,141.01 L360.58,140.82 L362.60,140.59 L364.62,140.33 L366.64,140.04 L368.65,139.71 L370.67,139.35 L372.69,138.95 L374.70,138.51 L376.72,138.03 L378.74,137.51 L380.75,136.94 L382.77,136.33 L384.79,135.67 L386.81,134.97 L388.82,134.22 L390.84,133.41 L392.86,132.56 L394.87,131.65 L396.89,130.69 L398.91,129.68 L400.92,128.60 L402.94,127.47 L404.96,126.28 L406.97,125.03 L408.99,123.72 L411.01,122.34 L413.03,120.90 L415.04,119.40 L417.06,117.82 L419.08,116.18 L421.09,114.46 L423.11,112.68 L425.13,110.82 L427.14,108.89 L429.16,106.88 L431.18,104.80 L433.19,102.64 L435.21,100.40 L437.23,98.07 L439.25,95.67 L441.26,93.18 L443.28,90.61 L445.30,87.95 L447.31,85.20 L449.33,82.37 L451.35,79.44 L453.36,76.42 L455.38,73.31 L457.40,70.11 L459.42,66.81 L461.43,63.41 L463.45,59.91 L465.47,56.32 L467.48,52.62 L469.50,48.82" fill="none" stroke="#ff2222" stroke-width="1.1" stroke-dasharray="3.5 3"/>
<path d="M386.5,136.8 L393.9,140.5 L386.5,144.2 Z" fill="#ee1515" stroke="#000" stroke-width="0.9"/>
<path d="M388.0,133.3 L395.4,137.0 L388.0,140.7 Z" fill="#ee1515" stroke="#000" stroke-width="0.9"/>
<path d="M389.5,136.8 L396.9,140.5 L389.5,144.2 Z" fill="#ee1515" stroke="#000" stroke-width="0.9"/>
<path d="M391.0,133.3 L398.4,137.0 L391.0,140.7 Z" fill="#ee1515" stroke="#000" stroke-width="0.9"/>
<path d="M392.5,136.3 L399.9,140.0 L392.5,143.7 Z" fill="#ee1515" stroke="#000" stroke-width="0.9"/>
<path d="M394.0,133.8 L401.4,137.5 L394.0,141.2 Z" fill="#ee1515" stroke="#000" stroke-width="0.9"/>
<path d="M395.5,135.8 L402.9,139.5 L395.5,143.2 Z" fill="#ee1515" stroke="#000" stroke-width="0.9"/>
<path d="M399.5,133.8 L406.9,137.5 L399.5,141.2 Z" fill="#ee1515" stroke="#000" stroke-width="0.9"/>
<path d="M406.0,133.1 L413.4,136.8 L406.0,140.5 Z" fill="#ee1515" stroke="#000" stroke-width="0.9"/>
<path d="M422.2,131.0 L427.6,133.7 L422.2,136.4 Z" fill="#ee1515" stroke="#000" stroke-width="0.9"/>
<path d="M430.5,127.5 L435.9,130.2 L430.5,132.9 Z" fill="#ee1515" stroke="#000" stroke-width="0.9"/>
<path d="M437.6,123.8 L443.0,126.5 L437.6,129.2 Z" fill="#ee1515" stroke="#000" stroke-width="0.9"/>
<path d="M442.7,120.7 L448.1,123.4 L442.7,126.1 Z" fill="#ee1515" stroke="#000" stroke-width="0.9"/>
<path d="M446.9,117.8 L452.3,120.5 L446.9,123.2 Z" fill="#ee1515" stroke="#000" stroke-width="0.9"/>
<path d="M450.8,114.9 L456.2,117.6 L450.8,120.3 Z" fill="#ee1515" stroke="#000" stroke-width="0.9"/>
<path d="M453.9,112.3 L459.3,115.0 L453.9,117.7 Z" fill="#ee1515" stroke="#000" stroke-width="0.9"/>
<path d="M456.2,110.4 L461.6,113.1 L456.2,115.8 Z" fill="#ee1515" stroke="#000" stroke-width="0.9"/>
<path d="M459.2,107.7 L464.6,110.4 L459.2,113.1 Z" fill="#ee1515" stroke="#000" stroke-width="0.9"/>
<path d="M462.1,104.9 L467.5,107.6 L462.1,110.3 Z" fill="#ee1515" stroke="#000" stroke-width="0.9"/>
<path d="M464.2,102.8 L469.6,105.5 L464.2,108.2 Z" fill="#ee1515" stroke="#000" stroke-width="0.9"/>
<path d="M466.9,99.8 L472.4,102.6 L466.9,105.3 Z" fill="#ee1515" stroke="#000" stroke-width="0.9"/>
<path d="M469.5,96.8 L475.1,99.6 L469.5,102.4 Z" fill="#ee1515" stroke="#000" stroke-width="0.9"/>
<path d="M471.4,94.4 L477.1,97.3 L471.4,100.2 Z" fill="#ee1515" stroke="#000" stroke-width="0.9"/>
<path d="M473.9,91.2 L479.8,94.2 L473.9,97.1 Z" fill="#ee1515" stroke="#000" stroke-width="0.9"/>
<path d="M476.3,88.0 L482.3,91.0 L476.3,94.0 Z" fill="#ee1515" stroke="#000" stroke-width="0.9"/>
<path d="M478.1,85.5 L484.2,88.6 L478.1,91.6 Z" fill="#ee1515" stroke="#000" stroke-width="0.9"/>
<path d="M480.4,82.2 L486.6,85.3 L480.4,88.4 Z" fill="#ee1515" stroke="#000" stroke-width="0.9"/>
<path d="M482.7,78.8 L489.0,82.0 L482.7,85.2 Z" fill="#ee1515" stroke="#000" stroke-width="0.9"/>
<path d="M484.3,76.4 L490.7,79.6 L484.3,82.8 Z" fill="#ee1515" stroke="#000" stroke-width="0.9"/>
<path d="M486.5,72.9 L493.0,76.2 L486.5,79.5 Z" fill="#ee1515" stroke="#000" stroke-width="0.9"/>
<path d="M489.1,68.6 L495.8,71.9 L489.1,75.3 Z" fill="#ee1515" stroke="#000" stroke-width="0.9"/>
<path d="M490.7,66.0 L497.4,69.4 L490.7,72.7 Z" fill="#ee1515" stroke="#000" stroke-width="0.9"/>
<path d="M493.2,61.6 L500.1,65.0 L493.2,68.5 Z" fill="#ee1515" stroke="#000" stroke-width="0.9"/>
<path d="M495.6,57.1 L502.7,60.7 L495.6,64.2 Z" fill="#ee1515" stroke="#000" stroke-width="0.9"/>
<path d="M497.1,54.5 L504.2,58.1 L497.1,61.6 Z" fill="#ee1515" stroke="#000" stroke-width="0.9"/>
<path d="M499.9,49.1 L507.1,52.8 L499.9,56.4 Z" fill="#ee1515" stroke="#000" stroke-width="0.9"/>
<path d="M502.2,44.6 L509.5,48.3 L502.2,52.0 Z" fill="#ee1515" stroke="#000" stroke-width="0.9"/>
<path d="M507.0,38.6 L514.4,42.3 L507.0,46.0 Z" fill="#ee1515" stroke="#000" stroke-width="0.9"/>
<path d="M419.10,137.71 L420.59,137.27 L422.08,136.80 L423.57,136.31 L425.07,135.79 L426.56,135.24 L428.05,134.67 L429.54,134.07 L431.03,133.44 L432.52,132.79 L434.02,132.10 L435.51,131.38 L437.00,130.64 L438.49,129.86 L439.98,129.05 L441.47,128.21 L442.96,127.34 L444.46,126.43 L445.95,125.49 L447.44,124.52 L448.93,123.51 L450.42,122.47 L451.91,121.39 L453.41,120.28 L454.90,119.12 L456.39,117.94 L457.88,116.71 L459.37,115.44 L460.86,114.14 L462.35,112.79 L463.85,111.41 L465.34,109.99 L466.83,108.52 L468.32,107.01 L469.81,105.46 L471.30,103.87 L472.79,102.24 L474.29,100.56 L475.78,98.83 L477.27,97.06 L478.76,95.25 L480.25,93.39 L481.74,91.48 L483.24,89.53 L484.73,87.53 L486.22,85.48 L487.71,83.38 L489.20,81.23 L490.69,79.03 L492.18,76.79 L493.68,74.49 L495.17,72.14 L496.66,69.74 L498.15,67.28 L499.64,64.77 L501.13,62.21 L502.63,59.60 L504.12,56.93 L505.61,54.20 L507.10,51.42" fill="none" stroke="#000" stroke-width="1"/>
<path d="M388.20,141.50 L390.22,141.42 L392.23,141.31 L394.25,141.17 L396.27,141.01 L398.28,140.82 L400.30,140.59 L402.32,140.33 L404.34,140.04 L406.35,139.71 L408.37,139.35 L410.39,138.95 L412.40,138.51 L414.42,138.03 L416.44,137.51 L418.45,136.94 L420.47,136.33 L422.49,135.67 L424.51,134.97 L426.52,134.22 L428.54,133.41 L430.56,132.56 L432.57,131.65 L434.59,130.69 L436.61,129.68 L438.62,128.60 L440.64,127.47 L442.66,126.28 L444.67,125.03 L446.69,123.72 L448.71,122.34 L450.73,120.90 L452.74,119.40 L454.76,117.82 L456.78,116.18 L458.79,114.46 L460.81,112.68 L462.83,110.82 L464.84,108.89 L466.86,106.88 L468.88,104.80 L470.89,102.64 L472.91,100.40 L474.93,98.07 L476.95,95.67 L478.96,93.18 L480.98,90.61 L483.00,87.95 L485.01,85.20 L487.03,82.37 L489.05,79.44 L491.06,76.42 L493.08,73.31 L495.10,70.11 L497.12,66.81 L499.13,63.41 L501.15,59.91 L503.17,56.32 L505.18,52.62 L507.20,48.82" fill="none" stroke="#fff" stroke-width="1.7"/>
<path d="M388.20,141.50 L390.22,141.42 L392.23,141.31 L394.25,141.17 L396.27,141.01 L398.28,140.82 L400.30,140.59 L402.32,140.33 L404.34,140.04 L406.35,139.71 L408.37,139.35 L410.39,138.95 L412.40,138.51 L414.42,138.03 L416.44,137.51 L418.45,136.94 L420.47,136.33 L422.49,135.67 L424.51,134.97 L426.52,134.22 L428.54,133.41 L430.56,132.56 L432.57,131.65 L434.59,130.69 L436.61,129.68 L438.62,128.60 L440.64,127.47 L442.66,126.28 L444.67,125.03 L446.69,123.72 L448.71,122.34 L450.73,120.90 L452.74,119.40 L454.76,117.82 L456.78,116.18 L458.79,114.46 L460.81,112.68 L462.83,110.82 L464.84,108.89 L466.86,106.88 L468.88,104.80 L470.89,102.64 L472.91,100.40 L474.93,98.07 L476.95,95.67 L478.96,93.18 L480.98,90.61 L483.00,87.95 L485.01,85.20 L487.03,82.37 L489.05,79.44 L491.06,76.42 L493.08,73.31 L495.10,70.11 L497.12,66.81 L499.13,63.41 L501.15,59.91 L503.17,56.32 L505.18,52.62 L507.20,48.82" fill="none" stroke="#ff2222" stroke-width="1.1" stroke-dasharray="3.5 3"/>
<path d="M424.2,136.8 L431.6,140.5 L424.2,144.2 Z" fill="#ee1515" stroke="#000" stroke-width="0.9"/>
<path d="M425.7,133.3 L433.1,137.0 L425.7,140.7 Z" fill="#ee1515" stroke="#000" stroke-width="0.9"/>
<path d="M427.2,136.8 L434.6,140.5 L427.2,144.2 Z" fill="#ee1515" stroke="#000" stroke-width="0.9"/>
<path d="M428.7,133.3 L436.1,137.0 L428.7,140.7 Z" fill="#ee1515" stroke="#000" stroke-width="0.9"/>
<path d="M430.2,136.3 L437.6,140.0 L430.2,143.7 Z" fill="#ee1515" stroke="#000" stroke-width="0.9"/>
<path d="M431.7,133.8 L439.1,137.5 L431.7,141.2 Z" fill="#ee1515" stroke="#000" stroke-width="0.9"/>
<path d="M433.2,135.8 L440.6,139.5 L433.2,143.2 Z" fill="#ee1515" stroke="#000" stroke-width="0.9"/>
<path d="M437.2,133.8 L444.6,137.5 L437.2,141.2 Z" fill="#ee1515" stroke="#000" stroke-width="0.9"/>
<path d="M443.7,133.1 L451.1,136.8 L443.7,140.5 Z" fill="#ee1515" stroke="#000" stroke-width="0.9"/>
<path d="M459.9,131.0 L465.3,133.7 L459.9,136.4 Z" fill="#ee1515" stroke="#000" stroke-width="0.9"/>
<path d="M468.2,127.5 L473.6,130.2 L468.2,132.9 Z" fill="#ee1515" stroke="#000" stroke-width="0.9"/>
<path d="M475.3,123.8 L480.7,126.5 L475.3,129.2 Z" fill="#ee1515" stroke="#000" stroke-width="0.9"/>
<path d="M480.4,120.7 L485.8,123.4 L480.4,126.1 Z" fill="#ee1515" stroke="#000" stroke-width="0.9"/>
<path d="M484.6,117.8 L490.0,120.5 L484.6,123.2 Z" fill="#ee1515" stroke="#000" stroke-width="0.9"/>
<path d="M488.5,114.9 L493.9,117.6 L488.5,120.3 Z" fill="#ee1515" stroke="#000" stroke-width="0.9"/>
<path d="M491.6,112.3 L497.0,115.0 L491.6,117.7 Z" fill="#ee1515" stroke="#000" stroke-width="0.9"/>
<path d="M493.9,110.4 L499.3,113.1 L493.9,115.8 Z" fill="#ee1515" stroke="#000" stroke-width="0.9"/>
<path d="M496.9,107.7 L502.3,110.4 L496.9,113.1 Z" fill="#ee1515" stroke="#000" stroke-width="0.9"/>
<path d="M499.8,104.9 L505.2,107.6 L499.8,110.3 Z" fill="#ee1515" stroke="#000" stroke-width="0.9"/>
<path d="M501.9,102.8 L507.3,105.5 L501.9,108.2 Z" fill="#ee1515" stroke="#000" stroke-width="0.9"/>
<path d="M504.6,99.8 L510.1,102.6 L504.6,105.3 Z" fill="#ee1515" stroke="#000" stroke-width="0.9"/>
<path d="M507.2,96.8 L512.8,99.6 L507.2,102.4 Z" fill="#ee1515" stroke="#000" stroke-width="0.9"/>
<path d="M509.1,94.4 L514.8,97.3 L509.1,100.2 Z" fill="#ee1515" stroke="#000" stroke-width="0.9"/>
<path d="M511.6,91.2 L517.5,94.2 L511.6,97.1 Z" fill="#ee1515" stroke="#000" stroke-width="0.9"/>
<path d="M514.0,88.0 L520.0,91.0 L514.0,94.0 Z" fill="#ee1515" stroke="#000" stroke-width="0.9"/>
<path d="M515.8,85.5 L521.9,88.6 L515.8,91.6 Z" fill="#ee1515" stroke="#000" stroke-width="0.9"/>
<path d="M518.1,82.2 L524.3,85.3 L518.1,88.4 Z" fill="#ee1515" stroke="#000" stroke-width="0.9"/>
<path d="M520.4,78.8 L526.7,82.0 L520.4,85.2 Z" fill="#ee1515" stroke="#000" stroke-width="0.9"/>
<path d="M522.0,76.4 L528.4,79.6 L522.0,82.8 Z" fill="#ee1515" stroke="#000" stroke-width="0.9"/>
<path d="M524.2,72.9 L530.7,76.2 L524.2,79.5 Z" fill="#ee1515" stroke="#000" stroke-width="0.9"/>
<path d="M526.8,68.6 L533.5,71.9 L526.8,75.3 Z" fill="#ee1515" stroke="#000" stroke-width="0.9"/>
<path d="M528.4,66.0 L535.1,69.4 L528.4,72.7 Z" fill="#ee1515" stroke="#000" stroke-width="0.9"/>
<path d="M530.9,61.6 L537.8,65.0 L530.9,68.5 Z" fill="#ee1515" stroke="#000" stroke-width="0.9"/>
<path d="M533.3,57.1 L540.4,60.7 L533.3,64.2 Z" fill="#ee1515" stroke="#000" stroke-width="0.9"/>
<path d="M534.8,54.5 L541.9,58.1 L534.8,61.6 Z" fill="#ee1515" stroke="#000" stroke-width="0.9"/>
<path d="M537.6,49.1 L544.8,52.8 L537.6,56.4 Z" fill="#ee1515" stroke="#000" stroke-width="0.9"/>
<path d="M539.9,44.6 L547.2,48.3 L539.9,52.0 Z" fill="#ee1515" stroke="#000" stroke-width="0.9"/>
<path d="M544.7,38.6 L552.1,42.3 L544.7,46.0 Z" fill="#ee1515" stroke="#000" stroke-width="0.9"/>
<path d="M456.80,137.71 L458.29,137.27 L459.78,136.80 L461.27,136.31 L462.77,135.79 L464.26,135.24 L465.75,134.67 L467.24,134.07 L468.73,133.44 L470.22,132.79 L471.72,132.10 L473.21,131.38 L474.70,130.64 L476.19,129.86 L477.68,129.05 L479.17,128.21 L480.66,127.34 L482.16,126.43 L483.65,125.49 L485.14,124.52 L486.63,123.51 L488.12,122.47 L489.61,121.39 L491.11,120.28 L492.60,119.12 L494.09,117.94 L495.58,116.71 L497.07,115.44 L498.56,114.14 L500.05,112.79 L501.55,111.41 L503.04,109.99 L504.53,108.52 L506.02,107.01 L507.51,105.46 L509.00,103.87 L510.49,102.24 L511.99,100.56 L513.48,98.83 L514.97,97.06 L516.46,95.25 L517.95,93.39 L519.44,91.48 L520.94,89.53 L522.43,87.53 L523.92,85.48 L525.41,83.38 L526.90,81.23 L528.39,79.03 L529.88,76.79 L531.38,74.49 L532.87,72.14 L534.36,69.74 L535.85,67.28 L537.34,64.77 L538.83,62.21 L540.33,59.60 L541.82,56.93 L543.31,54.20 L544.80,51.42" fill="none" stroke="#000" stroke-width="1"/>
<path d="M425.90,141.50 L427.92,141.42 L429.93,141.31 L431.95,141.17 L433.97,141.01 L435.98,140.82 L438.00,140.59 L440.02,140.33 L442.04,140.04 L444.05,139.71 L446.07,139.35 L448.09,138.95 L450.10,138.51 L452.12,138.03 L454.14,137.51 L456.15,136.94 L458.17,136.33 L460.19,135.67 L462.21,134.97 L464.22,134.22 L466.24,133.41 L468.26,132.56 L470.27,131.65 L472.29,130.69 L474.31,129.68 L476.32,128.60 L478.34,127.47 L480.36,126.28 L482.37,125.03 L484.39,123.72 L486.41,122.34 L488.43,120.90 L490.44,119.40 L492.46,117.82 L494.48,116.18 L496.49,114.46 L498.51,112.68 L500.53,110.82 L502.54,108.89 L504.56,106.88 L506.58,104.80 L508.59,102.64 L510.61,100.40 L512.63,98.07 L514.65,95.67 L516.66,93.18 L518.68,90.61 L520.70,87.95 L522.71,85.20 L524.73,82.37 L526.75,79.44 L528.76,76.42 L530.78,73.31 L532.80,70.11 L534.82,66.81 L536.83,63.41 L538.85,59.91 L540.87,56.32 L542.88,52.62 L544.90,48.82" fill="none" stroke="#fff" stroke-width="1.7"/>
<path d="M425.90,141.50 L427.92,141.42 L429.93,141.31 L431.95,141.17 L433.97,141.01 L435.98,140.82 L438.00,140.59 L440.02,140.33 L442.04,140.04 L444.05,139.71 L446.07,139.35 L448.09,138.95 L450.10,138.51 L452.12,138.03 L454.14,137.51 L456.15,136.94 L458.17,136.33 L460.19,135.67 L462.21,134.97 L464.22,134.22 L466.24,133.41 L468.26,132.56 L470.27,131.65 L472.29,130.69 L474.31,129.68 L476.32,128.60 L478.34,127.47 L480.36,126.28 L482.37,125.03 L484.39,123.72 L486.41,122.34 L488.43,120.90 L490.44,119.40 L492.46,117.82 L494.48,116.18 L496.49,114.46 L498.51,112.68 L500.53,110.82 L502.54,108.89 L504.56,106.88 L506.58,104.80 L508.59,102.64 L510.61,100.40 L512.63,98.07 L514.65,95.67 L516.66,93.18 L518.68,90.61 L520.70,87.95 L522.71,85.20 L524.73,82.37 L526.75,79.44 L528.76,76.42 L530.78,73.31 L532.80,70.11 L534.82,66.81 L536.83,63.41 L538.85,59.91 L540.87,56.32 L542.88,52.62 L544.90,48.82" fill="none" stroke="#ff2222" stroke-width="1.1" stroke-dasharray="3.5 3"/>
<path d="M474.7,98.5 L509.6,55.5" fill="none" stroke="#33dd55" stroke-width="1.7"/>
<path d="M492,117.6 Q524,99.5 547.4,72.8" fill="none" stroke="#33dd55" stroke-width="1.7"/>
<text x="458" y="91.5" font-size="12" text-anchor="start" class="it" >A</text>
<text x="496.5" y="91.5" font-size="12" text-anchor="start" class="it" >B</text>
<text x="537.5" y="91.5" font-size="12" text-anchor="start" class="it" >C</text>
<rect x="55.4" y="207.3" width="225.6" height="2.4" fill="#c6c6c6"/>
<rect x="55.4" y="207.3" width="1.8" height="127.69999999999999" fill="#c2c2c2"/>
<rect x="281" y="208.3" width="1" height="127.69999999999999" fill="#858585"/>
<rect x="55.4" y="335" width="226.6" height="1" fill="#858585"/>
<rect x="83.625" y="333" width="1" height="2" fill="#858585"/>
<rect x="83.625" y="209.3" width="1" height="2" fill="#858585"/>
<rect x="111.75" y="333" width="1" height="2" fill="#858585"/>
<rect x="111.75" y="209.3" width="1" height="2" fill="#858585"/>
<rect x="139.875" y="333" width="1" height="2" fill="#858585"/>
<rect x="139.875" y="209.3" width="1" height="2" fill="#858585"/>
<rect x="168.0" y="333" width="1" height="2" fill="#858585"/>
<rect x="168.0" y="209.3" width="1" height="2" fill="#858585"/>
<rect x="196.125" y="333" width="1" height="2" fill="#858585"/>
<rect x="196.125" y="209.3" width="1" height="2" fill="#858585"/>
<rect x="224.25" y="333" width="1" height="2" fill="#858585"/>
<rect x="224.25" y="209.3" width="1" height="2" fill="#858585"/>
<rect x="252.375" y="333" width="1" height="2" fill="#858585"/>
<rect x="252.375" y="209.3" width="1" height="2" fill="#858585"/>
<rect x="56.9" y="244.73999999999998" width="2" height="1.8" fill="#a5a5a5"/>
<rect x="279" y="244.73999999999998" width="2" height="1.8" fill="#a5a5a5"/>
<rect x="56.9" y="270.3" width="2" height="1.8" fill="#a5a5a5"/>
<rect x="279" y="270.3" width="2" height="1.8" fill="#a5a5a5"/>
<rect x="56.9" y="295.86" width="2" height="1.8" fill="#a5a5a5"/>
<rect x="279" y="295.86" width="2" height="1.8" fill="#a5a5a5"/>
<text x="53" y="212.29999999999998" font-size="12" text-anchor="end" class="" >5</text>
<text x="53" y="249.64" font-size="12" text-anchor="end" class="" >2</text>
<text x="53" y="275.2" font-size="12" text-anchor="end" class="" >0</text>
<text x="53" y="301.26" font-size="12" text-anchor="end" class="" >−2</text>
<text x="53" y="339.09999999999997" font-size="12" text-anchor="end" class="" >−5</text>
<text x="56.5" y="349" font-size="12" text-anchor="middle" class="" >0</text>
<text x="84.625" y="349" font-size="12" text-anchor="middle" class="" >10</text>
<text x="112.75" y="349" font-size="12" text-anchor="middle" class="" >20</text>
<text x="140.875" y="349" font-size="12" text-anchor="middle" class="" >30</text>
<text x="169.0" y="349" font-size="12" text-anchor="middle" class="" >40</text>
<text x="197.125" y="349" font-size="12" text-anchor="middle" class="" >50</text>
<text x="225.25" y="349" font-size="12" text-anchor="middle" class="" >60</text>
<text x="253.375" y="349" font-size="12" text-anchor="middle" class="" >70</text>
<text x="281.5" y="349" font-size="12" text-anchor="middle" class="" >80</text>
<text x="137.7" y="365.3" font-size="12.4" text-anchor="start" class="" ># data points</text>
<text x="56.5" y="203" font-size="11.8">×10<tspan font-size="9" dy="-4.5">−7</tspan></text>
<text transform="translate(27,271.5) rotate(-90)" font-size="14" text-anchor="middle"><tspan class="it">K</tspan><tspan class="it" font-size="10" dy="3">Q</tspan><tspan font-size="10">1</tspan><tspan dy="-3">, </tspan><tspan class="it">K</tspan><tspan font-size="10" dy="3">1</tspan></text>
<line x1="69.4" y1="268.3" x2="101.8" y2="268.3" stroke="#000" stroke-width="1.8" stroke-dasharray="5.5 3.3"/>
<line x1="69.4" y1="285.1" x2="101.8" y2="285.1" stroke="#ff2a2a" stroke-width="1.8" stroke-dasharray="5.5 3.3"/>
<line x1="69.4" y1="301.4" x2="101.8" y2="301.4" stroke="#777" stroke-width="1"/>
<circle cx="86" cy="301.4" r="1.3" fill="#555"/>
<line x1="69.4" y1="317.5" x2="101.8" y2="317.5" stroke="#ffaaaa" stroke-width="1"/>
<circle cx="86" cy="317.5" r="1.3" fill="#ff7777"/>
<text x="106" y="273.5" font-size="12.2"><tspan class="it">K</tspan><tspan font-size="9.5" dy="3" class="it">Q</tspan><tspan font-size="9.5">1</tspan><tspan dy="-3" >(Gyroid)</tspan></text>
<text x="106" y="290" font-size="12.2"><tspan class="it">K</tspan><tspan font-size="9.5" dy="3" class="it">Q</tspan><tspan font-size="9.5">1</tspan><tspan dy="-3" >(Primitive)</tspan></text>
<text x="106" y="306" font-size="12.2"><tspan class="it">K</tspan><tspan font-size="9.5" dy="3">1</tspan><tspan dy="-3" dx="6">(Gyroid)</tspan></text>
<text x="106" y="322.5" font-size="12.2"><tspan class="it">K</tspan><tspan font-size="9.5" dy="3">1</tspan><tspan dy="-3" dx="6">(Primitive)</tspan></text>
<rect x="350.2" y="207.3" width="225.8" height="2.4" fill="#c6c6c6"/>
<rect x="350.2" y="207.3" width="1.8" height="127.69999999999999" fill="#c2c2c2"/>
<rect x="576" y="208.3" width="1" height="127.69999999999999" fill="#858585"/>
<rect x="350.2" y="335" width="226.8" height="1" fill="#858585"/>
<rect x="378.1875" y="333" width="1" height="2" fill="#858585"/>
<rect x="378.1875" y="209.3" width="1" height="2" fill="#858585"/>
<rect x="406.375" y="333" width="1" height="2" fill="#858585"/>
<rect x="406.375" y="209.3" width="1" height="2" fill="#858585"/>
<rect x="434.5625" y="333" width="1" height="2" fill="#858585"/>
<rect x="434.5625" y="209.3" width="1" height="2" fill="#858585"/>
<rect x="462.75" y="333" width="1" height="2" fill="#858585"/>
<rect x="462.75" y="209.3" width="1" height="2" fill="#858585"/>
<rect x="490.9375" y="333" width="1" height="2" fill="#858585"/>
<rect x="490.9375" y="209.3" width="1" height="2" fill="#858585"/>
<rect x="519.125" y="333" width="1" height="2" fill="#858585"/>
<rect x="519.125" y="209.3" width="1" height="2" fill="#858585"/>
<rect x="547.3125" y="333" width="1" height="2" fill="#858585"/>
<rect x="547.3125" y="209.3" width="1" height="2" fill="#858585"/>
<rect x="351.7" y="238.85" width="2" height="1.8" fill="#a5a5a5"/>
<rect x="574" y="238.85" width="2" height="1.8" fill="#a5a5a5"/>
<rect x="351.7" y="270.6" width="2" height="1.8" fill="#a5a5a5"/>
<rect x="574" y="270.6" width="2" height="1.8" fill="#a5a5a5"/>
<rect x="351.7" y="302.35" width="2" height="1.8" fill="#a5a5a5"/>
<rect x="574" y="302.35" width="2" height="1.8" fill="#a5a5a5"/>
<text x="346.5" y="212.0" font-size="12" text-anchor="end" class="" >0.02</text>
<text x="346.5" y="243.75" font-size="12" text-anchor="end" class="" >0.01</text>
<text x="346.5" y="275.5" font-size="12" text-anchor="end" class="" >0</text>
<text x="346.5" y="307.25" font-size="12" text-anchor="end" class="" >−0.01</text>
<text x="346.5" y="339.0" font-size="12" text-anchor="end" class="" >−0.02</text>
<text x="351.0" y="349" font-size="12" text-anchor="middle" class="" >0</text>
<text x="379.1875" y="349" font-size="12" text-anchor="middle" class="" >10</text>
<text x="407.375" y="349" font-size="12" text-anchor="middle" class="" >20</text>
<text x="435.5625" y="349" font-size="12" text-anchor="middle" class="" >30</text>
<text x="463.75" y="349" font-size="12" text-anchor="middle" class="" >40</text>
<text x="491.9375" y="349" font-size="12" text-anchor="middle" class="" >50</text>
<text x="520.125" y="349" font-size="12" text-anchor="middle" class="" >60</text>
<text x="548.3125" y="349" font-size="12" text-anchor="middle" class="" >70</text>
<text x="576.5" y="349" font-size="12" text-anchor="middle" class="" >80</text>
<text x="431.7" y="365.3" font-size="12.4" text-anchor="start" class="" ># data points</text>
<text transform="translate(306,271.5) rotate(-90)" font-size="14" text-anchor="middle"><tspan class="it">K</tspan><tspan class="it" font-size="10" dy="3">Q</tspan><tspan font-size="10">2</tspan></text>
<line x1="376.9" y1="305.9" x2="409.4" y2="305.9" stroke="#333" stroke-width="1.6" stroke-dasharray="5.2 3.9"/>
<line x1="376.9" y1="322.3" x2="409.4" y2="322.3" stroke="#ff1a1a" stroke-width="1.4" stroke-dasharray="5.2 3.9"/>
<text x="414" y="310" font-size="12.2"><tspan class="it">K</tspan><tspan font-size="9.5" dy="3" class="it">Q</tspan><tspan font-size="9.5">2</tspan><tspan dy="-3" dx="2">(Gyroid)</tspan></text>
<text x="414" y="326.5" font-size="12.2"><tspan class="it">K</tspan><tspan font-size="9.5" dy="3" class="it">Q</tspan><tspan font-size="9.5">2</tspan><tspan dy="-3" dx="2">(Primitive)</tspan></text>
<defs><clipPath id="cc"><rect x="56" y="208" width="225" height="127"/></clipPath><clipPath id="cd"><rect x="350" y="208" width="226" height="127"/></clipPath></defs>
<g clip-path="url(#cc)">
<path d="M57.50,232.50 L60.00,231.80 L65.30,231.20 L71.20,234.00 L73.90,237.30 L82.00,239.50 L87.40,239.50 L98.20,240.00 L114.50,242.00 L123.00,243.10 L134.30,247.10 L150.50,252.00 L170.00,255.20 L196.60,257.50 L281.00,263.00" fill="none" stroke="#ffb0b0" stroke-width="2.5" stroke-linejoin="round"/>
<path d="M57.50,232.50 L60.00,231.80 L65.30,231.20 L71.20,234.00 L73.90,237.30 L82.00,239.50 L87.40,239.50 L98.20,240.00 L114.50,242.00 L123.00,243.10 L134.30,247.10 L150.50,252.00 L170.00,255.20 L196.60,257.50 L281.00,263.00" fill="none" stroke="#ff8e8e" stroke-width="1.6" stroke-dasharray="1.6 1.2"/>
<path d="M57.20,246.50 L62.60,242.70 L76.60,243.80 L85.30,246.00 L98.20,247.00 L114.50,248.60 L126.20,251.20 L142.40,255.20 L170.00,258.50 L196.60,260.90 L281.00,265.20" fill="none" stroke="#a8a8a8" stroke-width="2.5" stroke-linejoin="round"/>
<path d="M57.20,246.50 L62.60,242.70 L76.60,243.80 L85.30,246.00 L98.20,247.00 L114.50,248.60 L126.20,251.20 L142.40,255.20 L170.00,258.50 L196.60,260.90 L281.00,265.20" fill="none" stroke="#707070" stroke-width="1.6" stroke-dasharray="1.6 1.2"/>
<path d="M84.20,246.50 L89.60,243.80 L96.10,242.70 L102.60,244.90 L114.50,245.40 L119.70,243.90 L129.40,240.30 L142.40,239.40 L164.50,236.00 L170.00,235.80 L196.60,237.70 L225.90,241.40 L245.30,238.50 L262.40,241.90 L281.00,240.20" fill="none" stroke="#000" stroke-width="1.7" stroke-dasharray="5.5 3.3"/>
<path d="M85.30,238.90 L87.40,236.20 L93.90,235.10 L101.50,237.30 L114.50,238.40 L119.70,239.00 L131.00,239.80 L140.00,236.50 L149.00,230.50 L157.00,221.20 L161.00,211.50 L162.50,205.00" fill="none" stroke="#ff2a2a" stroke-width="1.7" stroke-dasharray="5.5 3.3"/>
<path d="M238.50,340.00 L240.20,335.00 L245.50,326.90 L252.60,319.80 L257.90,315.40 L266.80,310.10 L272.00,308.70 L281.00,307.40" fill="none" stroke="#ff2a2a" stroke-width="1.7" stroke-dasharray="5.5 3.3"/>
<line x1="196.5" y1="208" x2="196.5" y2="335" stroke="#ff5a6a" stroke-width="1" stroke-dasharray="7 2.5"/>
</g>
<g clip-path="url(#cd)">
<line x1="356.6" y1="208" x2="356.2" y2="335" stroke="#ff1a1a" stroke-width="1.5" stroke-dasharray="5 3"/>
<line x1="357.9" y1="208" x2="357.7" y2="335" stroke="#333" stroke-width="1.5" stroke-dasharray="5 3" stroke-dashoffset="2"/>
<line x1="360.8" y1="208" x2="360.8" y2="335" stroke="#ff1a1a" stroke-width="1.5" stroke-dasharray="5 3"/>
<path d="M379.10,205.00 L379.10,247.20 L383.20,261.30 L391.10,262.20 L401.70,249.80 L415.70,261.00 L439.50,262.70 L462.90,263.90 L576.00,263.10" fill="none" stroke="#222" stroke-width="1.7" stroke-dasharray="5.2 3.9"/>
<path d="M382.00,205.00 L382.00,250.70 L384.00,252.50 L387.60,257.80 L396.40,247.20 L399.00,212.00 L401.20,200.00 L404.30,237.50 L413.10,223.50 L415.70,232.30 L426.30,218.20 L431.60,234.00 L439.50,244.60 L445.20,248.00 L460.40,255.00 L480.60,258.60 L505.90,260.60 L531.20,261.90 L576.00,263.10" fill="none" stroke="#ff1a1a" stroke-width="1.5" stroke-dasharray="5.2 3.9"/>
</g>
</svg></body></html>
